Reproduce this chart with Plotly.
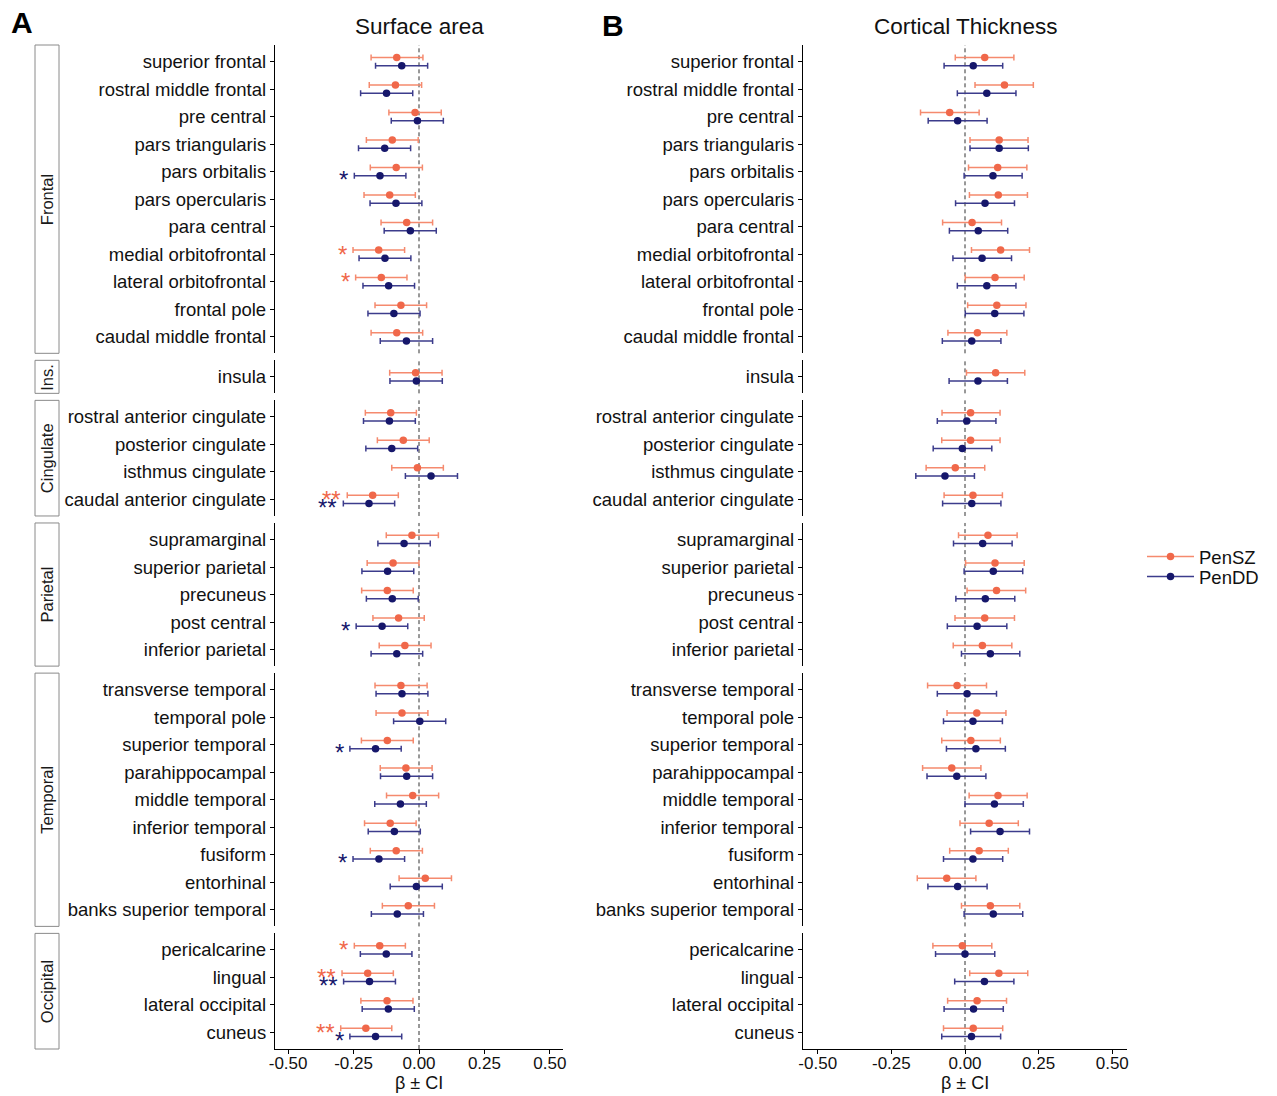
import plotly.graph_objects as go

# ---------------- data ----------------
groups = ["Frontal", "Ins.", "Cingulate", "Parietal", "Temporal", "Occipital"]
group_sizes = [11, 1, 4, 5, 9, 4]
regions = [
    "superior frontal", "rostral middle frontal", "pre central", "pars triangularis",
    "pars orbitalis", "pars opercularis", "para central", "medial orbitofrontal",
    "lateral orbitofrontal", "frontal pole", "caudal middle frontal",
    "insula",
    "rostral anterior cingulate", "posterior cingulate", "isthmus cingulate",
    "caudal anterior cingulate",
    "supramarginal", "superior parietal", "precuneus", "post central", "inferior parietal",
    "transverse temporal", "temporal pole", "superior temporal", "parahippocampal",
    "middle temporal", "inferior temporal", "fusiform", "entorhinal", "banks superior temporal",
    "pericalcarine", "lingual", "lateral occipital", "cuneus",
]

# Surface area - PenSZ
sa_sz_beta = [-0.085, -0.090, -0.015, -0.102, -0.087, -0.112, -0.047, -0.154, -0.144, -0.069, -0.085,
              -0.013,
              -0.108, -0.060, -0.006, -0.177,
              -0.027, -0.099, -0.121, -0.078, -0.054,
              -0.069, -0.065, -0.121, -0.050, -0.024, -0.110, -0.087, 0.024, -0.041,
              -0.150, -0.196, -0.122, -0.203]
sa_sz_lo = [-0.183, -0.190, -0.115, -0.201, -0.186, -0.210, -0.145, -0.252, -0.242, -0.168, -0.183,
            -0.112,
            -0.205, -0.159, -0.104, -0.274,
            -0.125, -0.198, -0.219, -0.176, -0.152,
            -0.168, -0.164, -0.220, -0.148, -0.124, -0.208, -0.186, -0.076, -0.140,
            -0.247, -0.294, -0.222, -0.299]
sa_sz_hi = [0.015, 0.010, 0.085, -0.003, 0.013, -0.014, 0.052, -0.055, -0.046, 0.029, 0.014,
            0.088,
            -0.010, 0.039, 0.093, -0.079,
            0.074, 0.000, -0.022, 0.020, 0.046,
            0.031, 0.034, -0.022, 0.050, 0.075, -0.011, 0.013, 0.124, 0.059,
            -0.052, -0.098, -0.023, -0.104]
sa_sz_sig = ["", "", "", "", "", "", "", "*", "*", "", "",
             "",
             "", "", "", "**",
             "", "", "", "", "",
             "", "", "", "", "", "", "", "", "",
             "*", "**", "", "**"]

# Surface area - PenDD
sa_dd_beta = [-0.066, -0.124, -0.006, -0.131, -0.149, -0.088, -0.033, -0.130, -0.116, -0.096, -0.048,
              -0.010,
              -0.113, -0.104, 0.046, -0.191,
              -0.057, -0.120, -0.102, -0.141, -0.085,
              -0.065, 0.003, -0.166, -0.047, -0.071, -0.094, -0.153, -0.010, -0.083,
              -0.125, -0.189, -0.117, -0.166]
sa_dd_lo = [-0.166, -0.223, -0.106, -0.231, -0.247, -0.187, -0.133, -0.229, -0.214, -0.195, -0.148,
            -0.111,
            -0.212, -0.203, -0.052, -0.289,
            -0.157, -0.218, -0.201, -0.240, -0.183,
            -0.164, -0.097, -0.264, -0.147, -0.169, -0.194, -0.252, -0.110, -0.182,
            -0.224, -0.288, -0.217, -0.264]
sa_dd_hi = [0.033, -0.024, 0.093, -0.032, -0.050, 0.011, 0.066, -0.031, -0.017, 0.004, 0.052,
            0.089,
            -0.014, -0.005, 0.147, -0.093,
            0.043, -0.020, -0.003, -0.043, 0.014,
            0.034, 0.102, -0.068, 0.052, 0.028, 0.005, -0.055, 0.089, 0.017,
            -0.027, -0.090, -0.018, -0.066]
sa_dd_sig = ["", "", "", "", "*", "", "", "", "", "", "",
             "",
             "", "", "", "**",
             "", "", "", "*", "",
             "", "", "*", "", "", "", "*", "", "",
             "", "**", "", "*"]

# Cortical thickness - PenSZ
ct_sz_beta = [0.067, 0.134, -0.052, 0.116, 0.111, 0.113, 0.024, 0.121, 0.102, 0.108, 0.042,
              0.104,
              0.019, 0.019, -0.033, 0.027,
              0.078, 0.102, 0.107, 0.067, 0.059,
              -0.027, 0.040, 0.020, -0.045, 0.112, 0.082, 0.048, -0.062, 0.086,
              -0.009, 0.115, 0.041, 0.028]
ct_sz_lo = [-0.033, 0.034, -0.151, 0.017, 0.012, 0.015, -0.076, 0.022, 0.001, 0.009, -0.058,
            0.005,
            -0.078, -0.079, -0.132, -0.071,
            -0.022, 0.002, 0.007, -0.034, -0.040,
            -0.127, -0.061, -0.079, -0.144, 0.014, -0.017, -0.052, -0.162, -0.012,
            -0.109, 0.016, -0.059, -0.073]
ct_sz_hi = [0.166, 0.232, 0.048, 0.214, 0.210, 0.212, 0.124, 0.219, 0.201, 0.207, 0.142,
            0.203,
            0.119, 0.119, 0.067, 0.127,
            0.177, 0.201, 0.206, 0.168, 0.159,
            0.073, 0.139, 0.120, 0.054, 0.211, 0.181, 0.147, 0.037, 0.186,
            0.091, 0.213, 0.141, 0.128]

# Cortical thickness - PenDD
ct_dd_beta = [0.028, 0.074, -0.025, 0.116, 0.095, 0.068, 0.045, 0.058, 0.074, 0.101, 0.023,
              0.044,
              0.006, -0.009, -0.068, 0.023,
              0.060, 0.096, 0.069, 0.041, 0.086,
              0.007, 0.027, 0.037, -0.028, 0.100, 0.119, 0.027, -0.025, 0.096,
              0.000, 0.066, 0.029, 0.022]
ct_dd_lo = [-0.071, -0.026, -0.125, 0.017, -0.003, -0.032, -0.053, -0.041, -0.026, 0.001, -0.077,
            -0.054,
            -0.094, -0.108, -0.167, -0.076,
            -0.039, -0.003, -0.031, -0.060, -0.012,
            -0.094, -0.073, -0.063, -0.129, 0.000, 0.019, -0.073, -0.126, -0.003,
            -0.100, -0.035, -0.071, -0.079]
ct_dd_hi = [0.128, 0.173, 0.075, 0.215, 0.194, 0.168, 0.145, 0.158, 0.173, 0.200, 0.122,
            0.144,
            0.105, 0.091, 0.032, 0.122,
            0.160, 0.196, 0.169, 0.142, 0.186,
            0.107, 0.127, 0.137, 0.071, 0.198, 0.219, 0.128, 0.075, 0.196,
            0.101, 0.166, 0.130, 0.121]
ct_sig_none = [""] * len(regions)

x_ticks = [-0.5, -0.25, 0.0, 0.25, 0.5]
x_tick_labels = ["-0.50", "-0.25", "0.00", "0.25", "0.50"]
x_title = "β ± CI"
panel_titles = ["Surface area", "Cortical Thickness"]
panel_letters = ["A", "B"]
series_names = ["PenSZ", "PenDD"]

# ---------------- styles ----------------
W, H = 1277, 1096
FONT = "Liberation Sans, Arial, sans-serif"
SZ_PT, SZ_BAR = "#F0684A", "#F58A6E"
DD_PT, DD_BAR = "#16176B", "#3C3C8C"
panel_px = [(275, 563), (803, 1127)]
top_px, bot_px, gap_px = 45, 1049, 7
dodge = 0.15


def px_x(v):
    return v / W


def px_y(v):
    return 1 - v / H


unit = (bot_px - top_px - gap_px * (len(groups) - 1)) / sum(n + 0.2 for n in group_sizes)
group_px = []
cur = top_px
for n in group_sizes:
    h = (n + 0.2) * unit
    group_px.append((cur, cur + h))
    cur += h + gap_px

panels = [
    [(sa_sz_beta, sa_sz_lo, sa_sz_hi, sa_sz_sig), (sa_dd_beta, sa_dd_lo, sa_dd_hi, sa_dd_sig)],
    [(ct_sz_beta, ct_sz_lo, ct_sz_hi, ct_sig_none), (ct_dd_beta, ct_dd_lo, ct_dd_hi, ct_sig_none)],
]
pt_cols = [SZ_PT, DD_PT]
bar_cols = [SZ_BAR, DD_BAR]
offsets = [dodge, -dodge]

fig = go.Figure()
layout = dict()
shapes = []
annotations = []

for p, series in enumerate(panels):
    start = 0
    for g, n in enumerate(group_sizes):
        k = p * len(groups) + g + 1
        xa = "xaxis" if k == 1 else f"xaxis{k}"
        ya = "yaxis" if k == 1 else f"yaxis{k}"
        xr = "x" if k == 1 else f"x{k}"
        yr = "y" if k == 1 else f"y{k}"
        idx = list(range(start, start + n))
        pos = [n - i for i in range(n)]
        names = [regions[i] for i in idx]
        for s, (beta, lo, hi, sig) in enumerate(series):
            b = [beta[i] for i in idx]
            l = [lo[i] for i in idx]
            h = [hi[i] for i in idx]
            yy = [q + offsets[s] for q in pos]
            fig.add_trace(go.Scatter(
                x=b, y=yy, mode="markers", xaxis=xr, yaxis=yr, showlegend=False,
                marker=dict(color=pt_cols[s], size=7.5),
                error_x=dict(type="data", symmetric=False,
                             array=[hh - bb for hh, bb in zip(h, b)],
                             arrayminus=[bb - ll for bb, ll in zip(b, l)],
                             color=bar_cols[s], thickness=1.5, width=3),
                hoverinfo="skip",
            ))
            for j, i in enumerate(idx):
                if sig[i]:
                    annotations.append(dict(
                        x=lo[i] - 0.015, y=yy[j], xref=xr, yref=yr, text=sig[i],
                        showarrow=False, xanchor="right", yanchor="middle", yshift=-4,
                        font=dict(size=24, color=pt_cols[s], family=FONT)))
        bottom = g == len(groups) - 1
        g_top, g_bot = group_px[g]
        layout[ya] = dict(
            domain=[px_y(g_bot), px_y(g_top)], anchor=xr, range=[0.4, n + 0.6],
            tickvals=pos, ticktext=names, showline=True, linecolor="black", linewidth=1.3,
            ticks="outside", ticklen=4, tickcolor="black", tickwidth=1,
            showgrid=False, zeroline=False, automargin=False,
            tickfont=dict(size=18.5, color="#111111", family=FONT),
        )
        xdict = dict(
            domain=[px_x(panel_px[p][0]), px_x(panel_px[p][1])], anchor=yr,
            range=[-0.55, 0.55], showgrid=False, zeroline=False, automargin=False,
        )
        if bottom:
            xdict.update(dict(
                showline=True, linecolor="black", linewidth=1.3, ticks="outside",
                ticklen=4, tickcolor="black", tickvals=x_ticks, ticktext=x_tick_labels,
                tickfont=dict(size=17, color="#111111", family=FONT),
                ticklabelstandoff=-6,
            ))
        else:
            xdict.update(dict(showline=False, showticklabels=False, ticks=""))
        layout[xa] = xdict
        shapes.append(dict(type="line", xref=xr, yref=f"{yr} domain", x0=0, x1=0, y0=0, y1=1,
                           line=dict(color="#333333", width=1, dash="4px,3px"), layer="below"))
        if p == 0:
            shapes.append(dict(type="rect", xref="paper", yref="paper",
                               x0=px_x(35), x1=px_x(59), y0=px_y(g_bot), y1=px_y(g_top),
                               line=dict(color="#8a8a8a", width=1), fillcolor="white"))
            annotations.append(dict(x=px_x(47), y=px_y((g_top + g_bot) / 2), xref="paper",
                                    yref="paper", text=groups[g], textangle=-90,
                                    showarrow=False, xanchor="center", yanchor="middle",
                                    font=dict(size=16.5, color="#1a1a1a", family=FONT)))
        start += n
    cx = (panel_px[p][0] + panel_px[p][1]) / 2
    annotations.append(dict(x=px_x(cx), y=px_y(27), xref="paper", yref="paper",
                            text=panel_titles[p], showarrow=False, xanchor="center",
                            yanchor="middle", font=dict(size=22.5, color="#111111", family=FONT)))
    annotations.append(dict(x=px_x(cx), y=px_y(1083), xref="paper", yref="paper",
                            text=x_title, showarrow=False, xanchor="center",
                            yanchor="middle", font=dict(size=18, color="#111111", family=FONT)))

annotations.append(dict(x=px_x(9), y=px_y(22), xref="paper", yref="paper", text="<b>A</b>",
                        showarrow=False, xanchor="left", yanchor="middle",
                        font=dict(size=30, color="black", family=FONT)))
annotations.append(dict(x=px_x(600), y=px_y(26), xref="paper", yref="paper", text="<b>B</b>",
                        showarrow=False, xanchor="left", yanchor="middle",
                        font=dict(size=30, color="black", family=FONT)))

# legend entries (one legend per entry so that spacing can match)
legend_ids = ["legend", "legend2"]
legend_y = [557, 577]
for s in range(2):
    fig.add_trace(go.Scatter(x=[None], y=[None], mode="lines+markers", name=series_names[s],
                             line=dict(color=bar_cols[s], width=1.5),
                             marker=dict(color=pt_cols[s], size=7.5), showlegend=True,
                             legend=legend_ids[s]))
    layout[legend_ids[s]] = dict(
        x=px_x(1142), y=px_y(legend_y[s]), xanchor="left", yanchor="middle",
        font=dict(size=18.5, color="#111111", family=FONT),
        bgcolor="rgba(0,0,0,0)", itemwidth=47)

fig.update_layout(
    width=W, height=H, margin=dict(l=0, r=0, t=0, b=0, pad=0, autoexpand=False),
    paper_bgcolor="white", plot_bgcolor="white",
    font=dict(family=FONT, color="#111111"),
    shapes=shapes, annotations=annotations,
    **layout,
)

fig.write_html(
    "out.html",
    config={"displayModeBar": False},
    post_script=(
        "document.body.style.margin='0px';"
        "document.body.style.overflow='hidden';"
        "document.documentElement.style.overflow='hidden';"
    ),
)
